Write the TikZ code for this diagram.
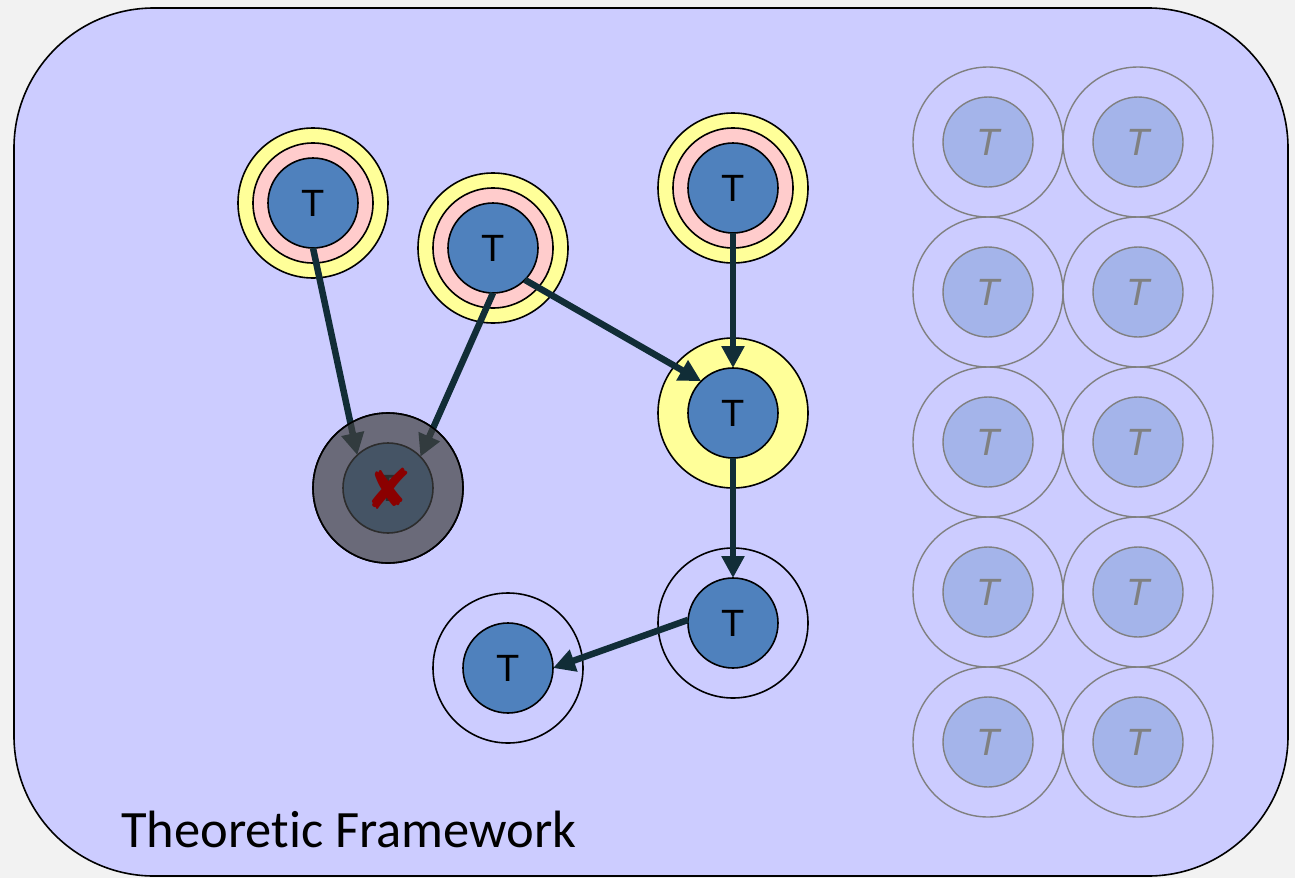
\documentclass[tikz,border=0pt]{standalone}
\usepackage{fontspec}
\setsansfont{Liberation Sans}
\newfontfamily\titlefont[Ligatures=NoCommon]{Carlito}
\newfontfamily\symfont{DejaVu Sans}
\usetikzlibrary{arrows.meta}
\definecolor{pagegray}{HTML}{F2F2F2}
\definecolor{framefill}{HTML}{CCCCFF}
\definecolor{ringyellow}{HTML}{FFFF99}
\definecolor{ringpink}{HTML}{FFCCCC}
\definecolor{coreblue}{HTML}{4F81BD}
\definecolor{ghostblue}{HTML}{A4B4EA}
\definecolor{ghostline}{HTML}{808080}
\definecolor{linkcol}{HTML}{112D37}
\definecolor{shadecol}{HTML}{414141}
\definecolor{crosscol}{HTML}{8B0000}

\begin{document}
\begin{tikzpicture}[x=1pt,y=-1pt,
  ring/.style={circle, draw=black, line width=1.6pt, inner sep=0pt, outer sep=0pt, minimum size=#1},
  core/.style={circle, draw=black, line width=1.6pt, fill=coreblue, inner sep=0pt, outer sep=0pt,
    minimum size=90pt, font=\sffamily\fontsize{38}{38}\selectfont},
  ghostring/.style={circle, draw=ghostline, line width=1.4pt, inner sep=0pt, minimum size=150pt},
  ghostcore/.style={circle, draw=ghostline, line width=1.4pt, fill=ghostblue, inner sep=0pt,
    minimum size=90pt, text=ghostline, font=\sffamily\itshape\fontsize{38}{38}\selectfont},
  link/.style={line width=6.5pt, draw=linkcol, -{Triangle[length=22pt,width=22pt]}},
]
% page and framework panel
\fill[pagegray] (0,0) rectangle (1295,878);
\useasboundingbox (0,0) rectangle (1295,878);
\draw[line width=1.6pt, fill=framefill, rounded corners=140pt] (14,8) rectangle (1288,876);

% unused theories, faded grid on the right
\foreach \c/\x in {1/988, 2/1138}{
  \foreach \r/\y in {1/142, 2/292, 3/442, 4/592, 5/742}{
    \node[ghostring] (g-\c-\r-ring) at (\x,\y) {};
    \node[ghostcore] (g-\c-\r) at (\x,\y) {T};
  }
}

% theory A (yellow + pink rings)
\node[ring=150pt, fill=ringyellow] (ay) at (313,203) {};
\node[ring=120pt, fill=ringpink] (ap) at (313,203) {};
\node[core] (a) at (313,203) {T};

% theory B (yellow + pink rings)
\node[ring=150pt, fill=ringyellow] (by) at (493,248) {};
\node[ring=120pt, fill=ringpink] (bp) at (493,248) {};
\node[core] (b) at (493,248) {T};

% theory C (yellow + pink rings)
\node[ring=150pt, fill=ringyellow] (cy) at (733,188) {};
\node[ring=120pt, fill=ringpink] (cp) at (733,188) {};
\node[core] (c) at (733,188) {T};

% theory D (yellow ring)
\node[ring=150pt, fill=ringyellow] (dy) at (733,413) {};
\node[core] (d) at (733,413) {T};

% theories E and F (plain rings)
\node[ring=150pt] (ey) at (733,623) {};
\node[core] (e) at (733,623) {T};
\node[ring=150pt] (fy) at (508,668) {};
\node[core] (f) at (508,668) {T};

% rejected theory X
\node[ring=150pt] (xy) at (388,488) {};
\node[core] (x) at (388,488) {T};

% derivation links
\draw[link] (a.south) -- (x.133);
\draw[link] (b.south) -- (x.44);
\draw[link] (b.-45) -- (d.135);
\draw[link] (c.south) -- (d.north);
\draw[link] (d.south) -- (e.north);
\draw[link] (e.176) -- (f.east);

% shading over the rejected theory and its cross mark
\node[circle, minimum size=150pt, inner sep=0pt, fill=shadecol, fill opacity=0.7,
  draw=black, line width=1.6pt] (xshade) at (xy) {};
\node[text=crosscol, inner sep=0pt, font=\symfont\fontsize{56}{56}\selectfont] (xmark) at (389,489) {✘};

% caption
\node[anchor=base west, inner sep=0pt, font=\titlefont\fontsize{52.5}{52.5}\selectfont] (title)
  at (121,847) {Theoretic Framework};
\end{tikzpicture}
\end{document}
